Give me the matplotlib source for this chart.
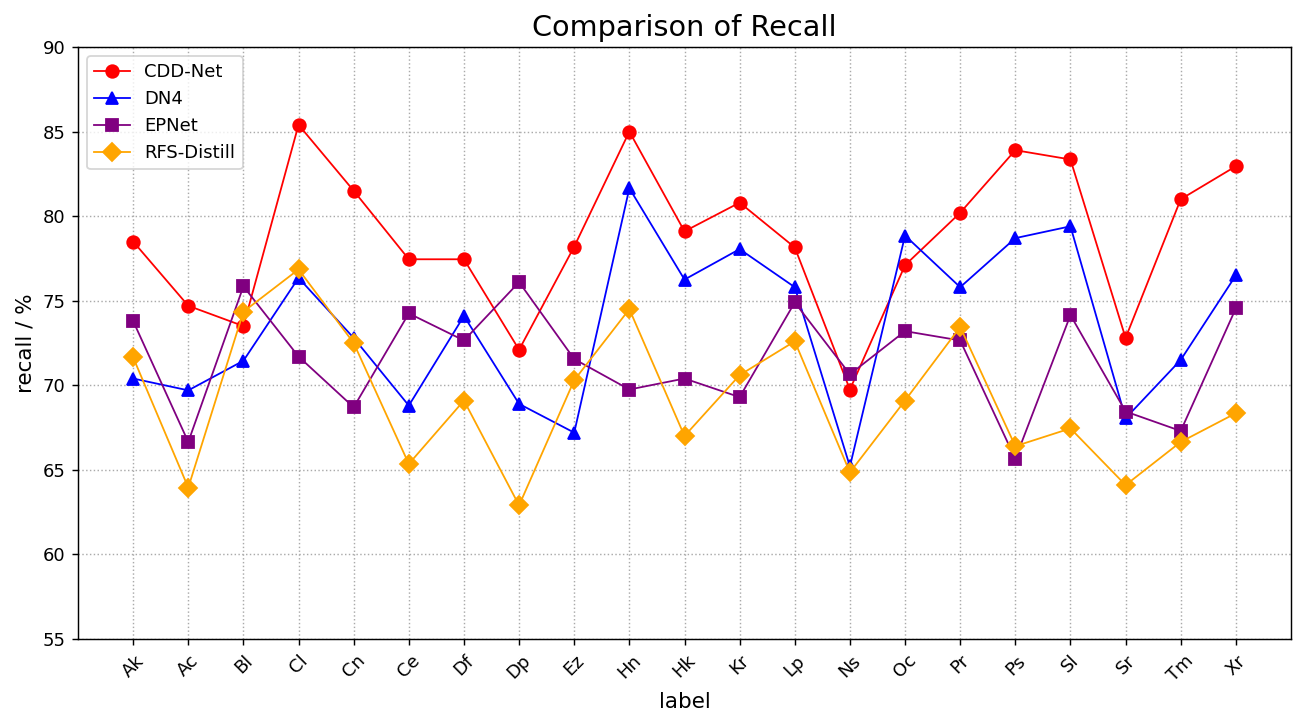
import matplotlib
matplotlib.use("Agg")
import matplotlib.pyplot as plt
import numpy as np

labels = ["Ak", "Ac", "Bl", "Cl", "Cn", "Ce", "Df", "Dp", "Ez", "Hn", "Hk",
          "Kr", "Lp", "Ns", "Oc", "Pr", "Ps", "Sl", "Sr", "Tm", "Xr"]
cdd_net = [78.5, 74.7, 73.5, 85.4, 81.5, 77.45, 77.45, 72.1, 78.2, 85.0, 79.1,
           80.8, 78.15, 69.75, 77.1, 80.2, 83.9, 83.35, 72.8, 81.0, 82.95]
dn4 = [70.4, 69.7, 71.45, 76.35, 72.8, 68.8, 74.1, 68.9, 67.2, 81.65, 76.25,
       78.05, 75.8, 65.2, 78.85, 75.8, 78.7, 79.4, 68.05, 71.5, 76.5]
epnet = [73.8, 66.65, 75.85, 71.7, 68.7, 74.25, 72.65, 76.1, 71.55, 69.75, 70.4,
         69.3, 74.9, 70.65, 73.2, 72.65, 65.65, 74.15, 68.45, 67.3, 74.55]
rfs_distill = [71.65, 63.95, 74.35, 76.85, 72.5, 65.35, 69.1, 62.9, 70.3, 74.5, 67.0,
               70.6, 72.6, 64.85, 69.1, 73.45, 66.4, 67.45, 64.1, 66.65, 68.35]

DPI = 129.3
fig = plt.figure(figsize=(1293 / DPI, 710 / DPI), dpi=DPI)
ax = fig.add_axes([78/1293, 1-639/710, (1291-78)/1293, (639-47)/710])
x = np.arange(len(labels))
ax.plot(x, cdd_net, color="red", marker="o", markersize=7, linewidth=1, label="CDD-Net")
ax.plot(x, dn4, color="blue", marker="^", markersize=7, linewidth=1, label="DN4")
ax.plot(x, epnet, color="purple", marker="s", markersize=7, linewidth=1, label="EPNet")
ax.plot(x, rfs_distill, color="orange", marker="D", markersize=7, linewidth=1, label="RFS-Distill")
ax.set_xticks(x)
ax.set_xticklabels(labels, rotation=45, fontsize=10)
ax.tick_params(axis="y", labelsize=10)
ax.set_ylim(55, 90)
ax.set_xlim(-1.0, 21.0)
ax.grid(True, linestyle=":", color="#aaaaaa", linewidth=0.8)
ax.set_xlabel("label", fontsize=12)
ax.set_ylabel("recall / %", fontsize=12)
ax.set_title("Comparison of Recall", fontsize=16)
ax.legend(loc="upper left", fontsize=10)
fig.savefig("out.png", dpi=DPI)
